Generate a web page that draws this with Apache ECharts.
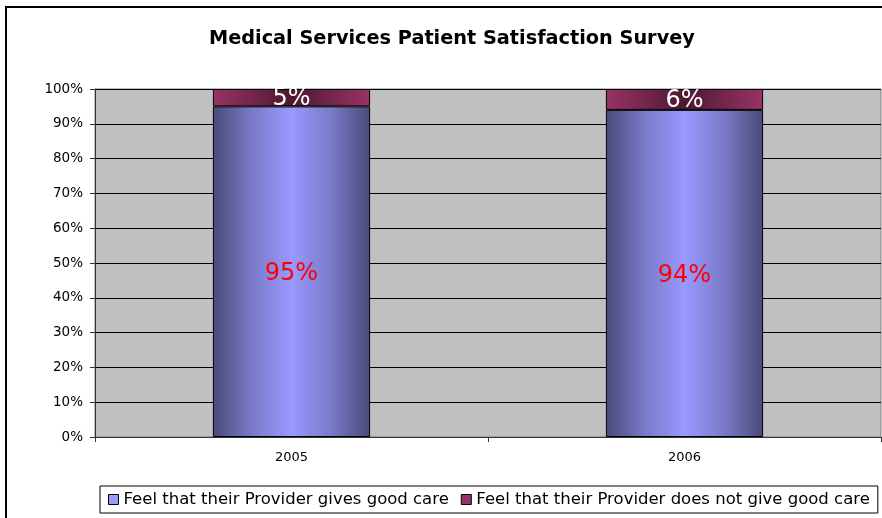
<!DOCTYPE html>
<html>
<head>
<meta charset="utf-8">
<script src="https://cdn.jsdelivr.net/npm/echarts@6/dist/echarts.min.js"></script>
<style>
  html, body { margin: 0; padding: 0; background: #fff; }
  #chart { width: 882px; height: 518px; }
</style>
</head>
<body>
<div id="chart"></div>
<script>
// survey data
const years = ['2005', '2006'];
const goodCare = [95, 94];
const notGoodCare = [5, 6];
const seriesNames = [
  'Feel that their Provider gives good care',
  'Feel that their Provider does not give good care'
];

const chart = echarts.init(document.getElementById('chart'));

const blueFill = new echarts.graphic.LinearGradient(0, 0, 1, 0, [
  { offset: 0, color: '#4a4a7a' },
  { offset: 0.25, color: '#7a7ac8' },
  { offset: 0.5, color: '#9999ff' },
  { offset: 0.75, color: '#7a7ac8' },
  { offset: 1, color: '#4a4a7a' }
]);
const maroonFill = new echarts.graphic.LinearGradient(0, 0, 1, 0, [
  { offset: 0, color: '#993366' },
  { offset: 0.5, color: '#4e1832' },
  { offset: 1, color: '#993366' }
]);

const option = {
  animation: false,
  textStyle: { fontFamily: 'DejaVu Sans, Verdana, sans-serif', color: '#000' },
  graphic: [{
    type: 'rect',
    shape: { x: 6, y: 7, width: 920, height: 560 },
    style: { fill: 'none', stroke: '#000', lineWidth: 2 },
    silent: true
  }],
  title: {
    text: 'Medical Services Patient Satisfaction Survey',
    left: 204,
    top: 24,
    textStyle: { fontSize: 19.3, fontWeight: 'bold', color: '#000', fontFamily: 'DejaVu Sans' }
  },
  legend: {
    left: 100,
    top: 486,
    padding: [5, 8, 5, 8],
    itemGap: 12,
    itemWidth: 10,
    itemHeight: 10,
    borderColor: '#000',
    borderWidth: 1,
    textStyle: { fontSize: 16.5, color: '#000', fontFamily: 'DejaVu Sans' },
    data: [
      { name: seriesNames[0], icon: 'rect', itemStyle: { color: '#9999ff', borderColor: '#000', borderWidth: 1 } },
      { name: seriesNames[1], icon: 'rect', itemStyle: { color: '#993366', borderColor: '#000', borderWidth: 1 } }
    ]
  },
  grid: {
    left: 95, right: 1, top: 89, bottom: 81,
    show: true,
    backgroundColor: '#c0c0c0',
    borderColor: '#808080',
    borderWidth: 1
  },
  xAxis: {
    type: 'category',
    data: years,
    axisLine: { lineStyle: { color: '#333', width: 1 } },
    axisTick: { show: true, length: 5, lineStyle: { color: '#333' } },
    axisLabel: { fontSize: 13, color: '#000', margin: 14 }
  },
  yAxis: {
    type: 'value',
    min: 0,
    max: 100,
    interval: 10,
    axisLine: { show: true, lineStyle: { color: '#333', width: 1 } },
    axisTick: { show: true, length: 5, lineStyle: { color: '#333' } },
    axisLabel: { fontSize: 13.5, color: '#000', formatter: '{value}%', margin: 12 },
    splitLine: { lineStyle: { color: '#000', width: 1 } }
  },
  series: [
    {
      name: seriesNames[0],
      type: 'bar',
      stack: 'total',
      barWidth: '40%',
      data: goodCare,
      itemStyle: { color: blueFill, borderColor: '#000', borderWidth: 1 },
      label: {
        show: true,
        position: 'inside',
        offset: [0, 2],
        formatter: '{c}%',
        color: '#ff0000',
        fontSize: 24
      }
    },
    {
      name: seriesNames[1],
      type: 'bar',
      stack: 'total',
      barWidth: '40%',
      data: notGoodCare,
      itemStyle: { color: maroonFill, borderColor: '#000', borderWidth: 1 },
      label: {
        show: true,
        position: 'inside',
        offset: [0, 1],
        formatter: '{c}%',
        color: '#ffffff',
        fontSize: 24
      }
    }
  ]
};

chart.setOption(option);
</script>
</body>
</html>
